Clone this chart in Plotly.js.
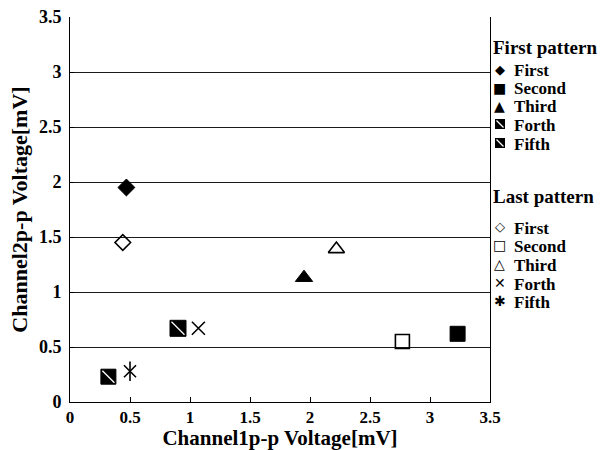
<!DOCTYPE html>
<html><head><meta charset="utf-8">
<script src="https://cdn.plot.ly/plotly-3.0.1.min.js"></script>
<style>body{margin:0;background:#fff}#c{width:616px;height:450px}</style>
</head><body><div id="c"></div>
<script>
const seriesNames = ["First","Second","Third","Forth","Fifth"];
const groupTitles = ["First pattern","Last pattern"];
const firstX = [0.47, 3.23, 1.95, 0.90, 0.32];
const firstY = [1.95, 0.62, 1.13, 0.67, 0.23];
const lastX = [0.44, 2.77, 2.22, 1.07, 0.50];
const lastY = [1.45, 0.55, 1.39, 0.67, 0.28];
const tickVals = [0,0.5,1,1.5,2,2.5,3,3.5];
const tickText = ["0","0.5","1","1.5","2","2.5","3","3.5"];

const firstSymbols = ["diamond","square","triangle-up","square","square"];
const firstSizes = [13, 15, 15, 16, 15];
const lastSymbols = ["diamond-open","square-open","triangle-up-open","x-thin-open","x-thin-open"];
const lastSizes = [12, 14, 14, 13, 12];
const firstGlyphs = ["◆","■","▲","",""];
const lastGlyphs = ["◇","□","△","✕","✱"];

const traces = [];
seriesNames.forEach((n,i)=>{
  traces.push({x:[firstX[i]], y:[firstY[i]], mode:'markers', type:'scatter', name:n, showlegend:false,
    marker:{symbol:firstSymbols[i], size:firstSizes[i], color:'#000', line:{color:'#000', width:1}}});
});
[3,4].forEach(i=>{
  traces.push({x:[firstX[i]], y:[firstY[i]], mode:'markers', type:'scatter', showlegend:false, hoverinfo:'skip',
    marker:{symbol:'line-nw-open', size:firstSizes[i]-3, color:'#fff', line:{color:'#fff', width:1.3}}});
});
seriesNames.forEach((n,i)=>{
  traces.push({x:[lastX[i]], y:[lastY[i]], mode:'markers', type:'scatter', name:n, showlegend:false,
    marker:{symbol:lastSymbols[i], size:lastSizes[i], color:'#000', line:{color:'#000', width:1.6}}});
});
traces.push({x:[lastX[4]], y:[lastY[4]], mode:'markers', type:'scatter', showlegend:false, hoverinfo:'skip',
  marker:{symbol:'line-ns-open', size:lastSizes[4]+2, color:'#000', line:{color:'#000', width:1.6}}});

// manual legend
const plotL=70, plotR=490, plotT=17, plotB=402;
const px = p => (p-plotL)/(plotR-plotL);
const py = p => (plotB-p)/(plotB-plotT);
const titleY = [47, 196];
const itemY = [[69,88,106,124,143],[227,245,264,283,301]];
const annotations = [];
const shapes = [];
const legFont = {family:'Liberation Serif', size:17, color:'#000', weight:'bold'};
const titleFont = {family:'Liberation Serif', size:19, color:'#000', weight:'bold'};
groupTitles.forEach((t,g)=>{
  annotations.push({xref:'paper', yref:'paper', x:px(492), y:py(titleY[g]), xanchor:'left', yanchor:'middle',
    text:t, showarrow:false, font:titleFont, borderpad:0});
  const glyphs = g===0 ? firstGlyphs : lastGlyphs;
  seriesNames.forEach((n,i)=>{
    if (glyphs[i]) {
      annotations.push({xref:'paper', yref:'paper', x:px(500), y:py(itemY[g][i]), xanchor:'center', yanchor:'middle',
        text:glyphs[i], showarrow:false, borderpad:0,
        font:{family:'DejaVu Sans', size:(glyphs[i]==='◆'||glyphs[i]==='◇')?13:14, color:'#000'}});
    } else {
      const cy = itemY[g][i];
      shapes.push({type:'rect', xref:'paper', yref:'paper', x0:px(495), x1:px(505), y0:py(cy+5), y1:py(cy-5),
        fillcolor:'#000', line:{color:'#000', width:0}});
      shapes.push({type:'line', xref:'paper', yref:'paper', x0:px(496.5), x1:px(503.5), y0:py(cy-3.5), y1:py(cy+3.5),
        line:{color:'#fff', width:1.2}});
    }
    annotations.push({xref:'paper', yref:'paper', x:px(513), y:py(itemY[g][i]+1), xanchor:'left', yanchor:'middle',
      text:n, showarrow:false, font:legFont, borderpad:0});
  });
});

const layout = {
  width:616, height:450,
  margin:{l:plotL, r:616-plotR, t:plotT, b:450-plotB},
  paper_bgcolor:'#fff', plot_bgcolor:'#fff',
  font:{family:'Liberation Serif', size:18, color:'#000', weight:'bold'},
  xaxis:{range:[0,3.5], tickvals:tickVals, ticktext:tickText, showgrid:false, zeroline:false, showline:true, linecolor:'#000', linewidth:1,
    ticks:'inside', ticklen:5, tickcolor:'#000', tickfont:{family:'Liberation Serif', size:17, weight:'bold'},
    title:{text:'Channel1p-p Voltage[mV]', standoff:4, font:{family:'Liberation Serif', size:21, weight:'bold'}}},
  yaxis:{range:[0,3.5], tickvals:tickVals, ticktext:tickText, showgrid:true, gridcolor:'#1a1a1a', gridwidth:1, zeroline:false, showline:true, mirror:true,
    linecolor:'#000', linewidth:1, ticks:'inside', ticklen:4, tickcolor:'#000', ticklabelstandoff:4,
    tickfont:{family:'Liberation Serif', size:18, weight:'bold'},
    title:{text:'Channel2p-p Voltage[mV]', standoff:5, font:{family:'Liberation Serif', size:22, weight:'bold'}}},
  showlegend:false,
  annotations:annotations,
  shapes:shapes
};
Plotly.newPlot('c', traces, layout, {displayModeBar:false, staticPlot:true});
</script></body></html>
